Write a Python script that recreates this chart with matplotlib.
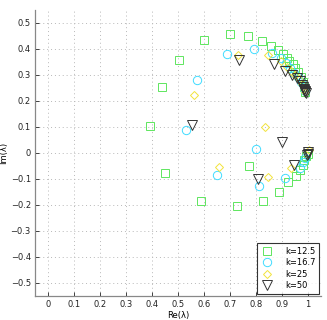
import matplotlib.pyplot as plt
import numpy as np

# eigenvalues, one pair of lists per k
re_125 = [0.392, 0.438, 0.503, 0.600, 0.699, 0.770, 0.822, 0.857, 0.884, 0.903, 0.918, 0.928,
          0.940, 0.950, 0.961, 0.971, 0.980, 0.986, 0.989,
          0.448, 0.589, 0.727, 0.773, 0.827, 0.889, 0.921, 0.954, 0.970, 0.980, 0.986, 0.993, 0.998]
im_125 = [0.102, 0.252, 0.358, 0.434, 0.455, 0.447, 0.430, 0.410, 0.393, 0.379, 0.366, 0.353,
          0.340, 0.325, 0.310, 0.293, 0.273, 0.254, 0.235,
          -0.079, -0.186, -0.206, -0.049, -0.185, -0.151, -0.113, -0.089, -0.067, -0.047, -0.028, -0.012, -0.003]

re_167 = [0.530, 0.573, 0.687, 0.792, 0.860, 0.896, 0.914, 0.930, 0.945, 0.960, 0.972, 0.983, 0.989,
          0.800, 0.651, 0.813, 0.912, 0.967, 0.982, 0.988]
im_167 = [0.089, 0.279, 0.379, 0.398, 0.383, 0.364, 0.344, 0.325, 0.308, 0.291, 0.273, 0.252, 0.236,
          0.014, -0.087, -0.126, -0.096, -0.060, -0.035, -0.019]

re_25 = [0.560, 0.729, 0.847, 0.896, 0.918, 0.935, 0.950, 0.964, 0.976, 0.985, 0.989,
         0.836, 0.656, 0.844, 0.934, 1.003]
im_25 = [0.222, 0.376, 0.374, 0.353, 0.331, 0.313, 0.298, 0.282, 0.265, 0.247, 0.233,
         0.098, -0.054, -0.092, -0.060, 0.010]

re_50 = [0.554, 0.733, 0.867, 0.912, 0.938, 0.957, 0.968, 0.976, 0.980, 0.983, 0.986, 0.988,
         0.989, 0.990, 0.901, 1.000, 0.998, 0.995, 0.807, 0.944]
im_50 = [0.106, 0.357, 0.340, 0.315, 0.299, 0.287, 0.274, 0.261, 0.253, 0.246, 0.240, 0.236,
         0.232, 0.229, 0.042, 0.002, -0.003, -0.009, -0.099, -0.047]

plt.rcParams['font.family'] = 'DejaVu Sans'
fig = plt.figure(figsize=(3.27, 3.2), dpi=100)
ax = fig.add_axes([0.107, 0.075, 0.875, 0.895])

ax.plot(re_125, im_125, 's', mfc='none', mec='#5ee65e', ms=5.2, mew=0.7, label='k=12.5')
ax.plot(re_167, im_167, 'o', mfc='none', mec='#40dcff', ms=6, mew=0.7, label='k=16.7')
ax.plot(re_25, im_25, 'D', mfc='none', mec='#f2e33c', ms=4.5, mew=0.7, label='k=25')
ax.plot(re_50, im_50, 'v', mfc='none', mec='#333333', ms=6.5, mew=0.7, label='k=50')

ax.set_xlim(-0.05, 1.05)
ax.set_ylim(-0.55, 0.55)
ax.set_xticks(np.round(np.arange(0, 1.01, 0.1), 1))
ax.set_yticks(np.round(np.arange(-0.5, 0.51, 0.1), 1))
ax.set_xticklabels(['0', '0.1', '0.2', '0.3', '0.4', '0.5', '0.6', '0.7', '0.8', '0.9', '1'])
ax.set_yticklabels(['\u22120.5', '\u22120.4', '\u22120.3', '\u22120.2', '\u22120.1', '0',
                    '0.1', '0.2', '0.3', '0.4', '0.5'])
ax.grid(True, ls=(0, (1, 3)), color='#b8b8b8', lw=0.7)
ax.tick_params(direction='in', length=3, width=0.6, labelsize=6, colors='#222222', pad=3)
for s in ['top', 'right']:
    ax.spines[s].set_visible(False)
for s in ['left', 'bottom']:
    ax.spines[s].set_color('#888888')
    ax.spines[s].set_linewidth(0.9)

ax.set_xlabel('Re(\u03bb)', fontsize=6, labelpad=1)
ax.set_ylabel('Im(\u03bb)', fontsize=6, labelpad=2)

leg = ax.legend(loc='lower right', fontsize=6, frameon=True, fancybox=False,
                edgecolor='black', handlelength=1.5, borderpad=0.4, labelspacing=0.3,
                handletextpad=1.4, borderaxespad=0.3)
leg.get_frame().set_linewidth(0.8)

fig.savefig('out.png', dpi=100)
